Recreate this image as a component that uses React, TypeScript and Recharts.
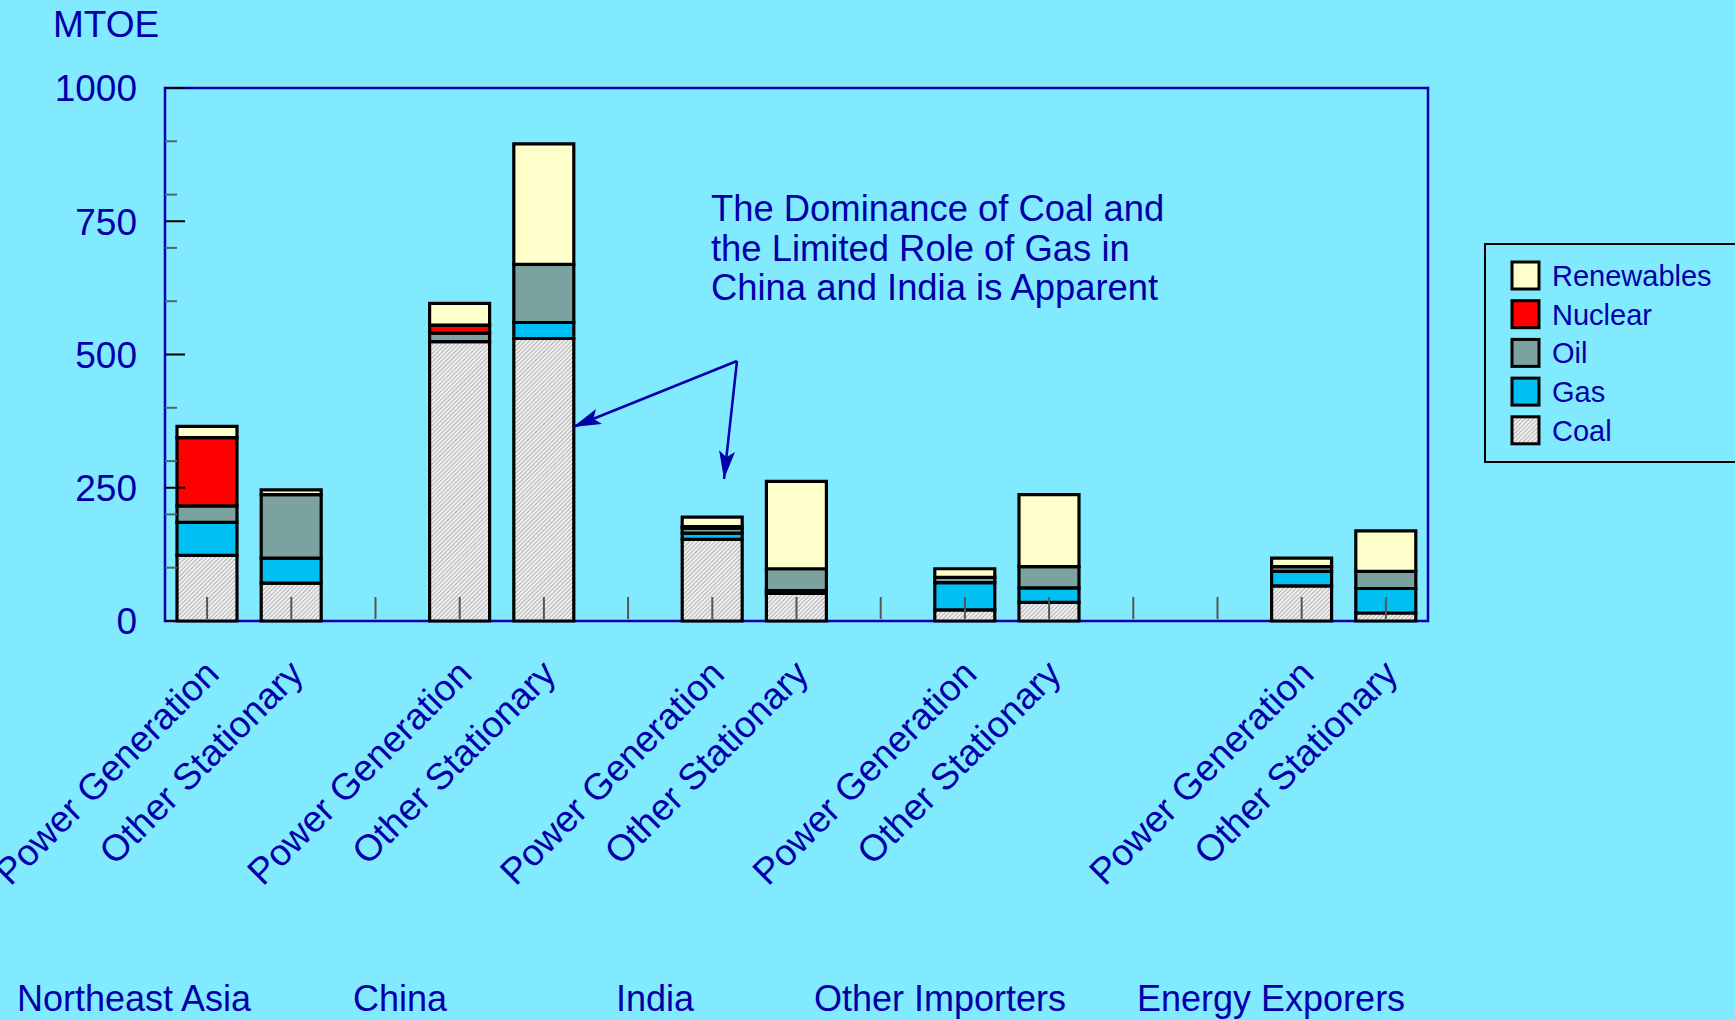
import { BarChart, Bar, XAxis, YAxis, ReferenceArea } from 'recharts'

const slotLabels = [
  'Power Generation', 'Other Stationary', '',
  'Power Generation', 'Other Stationary', '',
  'Power Generation', 'Other Stationary', '',
  'Power Generation', 'Other Stationary', '', '',
  'Power Generation', 'Other Stationary'
]
const coal = [123, 71, null, 524, 530, null, 153, 52, null, 21, 35, null, null, 66, 15]
const gas = [62, 47, null, 0, 30, null, 12, 5, null, 51, 27, null, null, 27, 46]
const oil = [31, 119, null, 16, 109, null, 9, 41, null, 10, 40, null, null, 9, 32]
const nuclear = [128, 0, null, 15, 0, null, 3, 0, null, 0, 0, null, null, 0, 0]
const renewables = [21, 9, null, 41, 226, null, 18, 164, null, 16, 135, null, null, 16, 76]

const yTicks = [0, 100, 200, 250, 300, 400, 500, 600, 700, 750, 800, 900, 1000]
const regions = ['Northeast Asia', 'China', 'India', 'Other Importers', 'Energy Exporers']
const regionX = [17, 353, 616, 814, 1137]

const BLUE = '#0000A8'
const FONT = '"Liberation Sans", Arial, sans-serif'

const series = [
  { key: 'coal', name: 'Coal', fill: 'url(#coalHatch)' },
  { key: 'gas', name: 'Gas', fill: '#00BFF3' },
  { key: 'oil', name: 'Oil', fill: '#7BA29E' },
  { key: 'nuclear', name: 'Nuclear', fill: '#FF0000' },
  { key: 'renewables', name: 'Renewables', fill: '#FFFFCC' }
]

const data = slotLabels.map((label, i) => ({
  slot: i,
  label,
  coal: coal[i],
  gas: gas[i],
  oil: oil[i],
  nuclear: nuclear[i],
  renewables: renewables[i]
}))

function XTick({ x, y, payload }: any) {
  const label = slotLabels[payload.value]
  const tx = x + 14
  const ty = y + 55
  return (
    <g>
      <line x1={x} x2={x} y1={y - 2} y2={y - 24} stroke="#555" strokeWidth={2} />
      {label && (
        <text
          x={tx}
          y={ty}
          textAnchor="end"
          fill={BLUE}
          fontSize={37}
          fontFamily={FONT}
          transform={`rotate(-45 ${tx} ${ty})`}
        >
          {label}
        </text>
      )}
    </g>
  )
}

function YTick({ x, y, payload }: any) {
  const major = payload.value % 250 === 0
  const ax = x + 28
  return (
    <g>
      <line
        x1={ax}
        x2={ax + (major ? 20 : 12)}
        y1={y}
        y2={y}
        stroke={major ? '#000' : '#4a6a70'}
        strokeWidth={2}
      />
      {major && (
        <text x={x} y={y} dy="0.36em" textAnchor="end" fill={BLUE} fontSize={37} fontFamily={FONT}>
          {payload.value}
        </text>
      )}
    </g>
  )
}

function LegendBox() {
  const items = [...series].reverse()
  return (
    <div
      style={{
        position: 'absolute',
        left: 1484,
        top: 243,
        width: 260,
        height: 220,
        border: '2px solid #000',
        boxSizing: 'border-box'
      }}
    >
      <svg width={260} height={220}>
        {items.map((s, i) => (
          <g key={s.key}>
            <rect
              x={26}
              y={17 + i * 38.7}
              width={27}
              height={27}
              fill={s.fill}
              stroke="#000"
              strokeWidth={3}
            />
            <text x={66} y={41 + i * 38.7} fill={BLUE} fontSize={29} fontFamily={FONT}>
              {s.name}
            </text>
          </g>
        ))}
      </svg>
    </div>
  )
}

export default function App() {
  return (
    <div
      style={{
        position: 'absolute',
        left: 0,
        top: 0,
        width: 1735,
        height: 1020,
        overflow: 'hidden',
        background: '#82EAFF',
        fontFamily: FONT
      }}
    >
      <BarChart
        width={1735}
        height={1020}
        data={data}
        margin={{ top: 88, right: 307, left: 0, bottom: 0 }}
      >
        <defs>
          <pattern id="coalHatch" width={3} height={3} patternUnits="userSpaceOnUse" patternTransform="rotate(45)">
            <rect width={3} height={3} fill="#f0f0f0" />
            <line x1={0} y1={0} x2={0} y2={3} stroke="#8a8a8a" strokeWidth={1.2} />
          </pattern>
        </defs>
        <YAxis
          type="number"
          domain={[0, 1000]}
          ticks={yTicks}
          interval={0}
          width={165}
          tickSize={0}
          tickMargin={28}
          tickLine={false}
          axisLine={false}
          tick={<YTick />}
        />
        {series.map((s) => (
          <Bar
            key={s.key}
            dataKey={s.key}
            name={s.name}
            stackId="a"
            fill={s.fill}
            stroke="#000"
            strokeWidth={3.2}
            barSize={60}
            isAnimationActive={false}
          />
        ))}
        <XAxis
          dataKey="slot"
          type="category"
          height={399}
          interval={0}
          tickSize={0}
          tickMargin={0}
          tickLine={false}
          axisLine={false}
          tick={<XTick />}
        />
        <ReferenceArea y1={0} y2={1000} fill="none" stroke="#0000AA" strokeWidth={2.5} fillOpacity={0} />
      </BarChart>

      <svg
        width={1735}
        height={1020}
        style={{ position: 'absolute', left: 0, top: 0, pointerEvents: 'none' }}
      >
        <defs>
          <marker id="arrowHead" markerWidth={28} markerHeight={16} refX={28} refY={8} orient="auto" markerUnits="userSpaceOnUse">
            <path d="M0,0 L28,8 L0,16 L6,8 Z" fill={BLUE} />
          </marker>
        </defs>
        <text x={53} y={37} fill={BLUE} fontSize={37}>MTOE</text>
        <text fill={BLUE} fontSize={36.4}>
          <tspan x={711} y={221}>The Dominance of Coal and</tspan>
          <tspan x={711} y={261}>the Limited Role of Gas in</tspan>
          <tspan x={711} y={300}>China and India is Apparent</tspan>
        </text>
        <line x1={737} y1={361} x2={573} y2={427} stroke={BLUE} strokeWidth={2.5} markerEnd="url(#arrowHead)" />
        <line x1={737} y1={361} x2={724} y2={479} stroke={BLUE} strokeWidth={2.5} markerEnd="url(#arrowHead)" />
        {regions.map((r, i) => (
          <text key={r} x={regionX[i]} y={1011} fill={BLUE} fontSize={36}>
            {r}
          </text>
        ))}
      </svg>

      <LegendBox />
    </div>
  )
}
